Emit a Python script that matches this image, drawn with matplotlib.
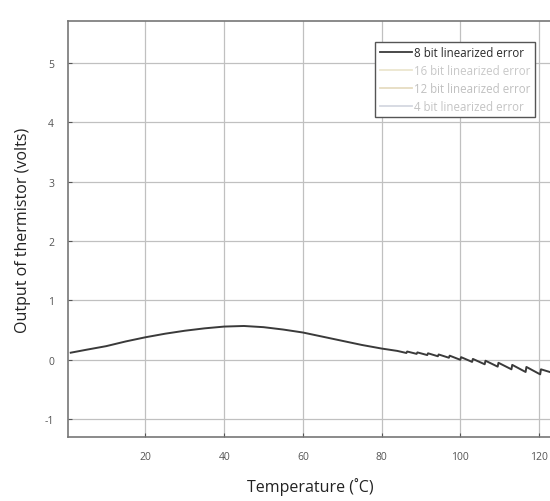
import numpy as np
import matplotlib.pyplot as plt
from matplotlib.lines import Line2D

plt.rcParams['axes.unicode_minus'] = False
plt.rcParams['font.family'] = ['Open Sans', 'DejaVu Sans']

# 8 bit linearized error
temp = [1, 5, 10, 15, 20, 25, 30, 35, 40, 45, 50, 55, 60, 65, 70, 75, 80, 84,
        86.3, 86.5, 88.9, 89.1, 91.6, 91.8, 94.3, 94.5, 97.1, 97.3, 100.0, 100.2,
        103.0, 103.2, 106.2, 106.4, 109.5, 109.7, 113.0, 113.2, 116.6, 116.8,
        120.3, 120.5, 123.5]
err_8bit = [0.12, 0.17, 0.23, 0.31, 0.38, 0.44, 0.49, 0.53, 0.56, 0.57, 0.55, 0.51,
            0.46, 0.39, 0.32, 0.25, 0.19, 0.15,
            0.115, 0.14, 0.10, 0.125, 0.08, 0.11, 0.06, 0.09, 0.035, 0.07, 0.0, 0.045,
            -0.035, 0.015, -0.075, -0.015, -0.115, -0.05, -0.16, -0.085, -0.205, -0.12,
            -0.245, -0.16, -0.22]

labels = ['8 bit linearized error', '16 bit linearized error',
          '12 bit linearized error', '4 bit linearized error']
line_colors = ['#3a3a3a', '#ece6cf', '#e6dcc2', '#d4d8e0']
text_colors = ['#2a2a2a', '#c8c8c8', '#c0c0c0', '#c4c4c4']

fig = plt.figure(figsize=(5.5, 5.02), dpi=100)
ax = fig.add_axes([0.1236, 0.1275, 0.88, 0.829])

ax.plot(temp, err_8bit, color=line_colors[0], lw=1.4)

ax.set_xlim(0.3, 123.3)
ax.set_ylim(-1.3, 5.71)
ax.set_xticks([20, 40, 60, 80, 100, 120])
ax.set_yticks([-1, 0, 1, 2, 3, 4, 5])
ax.grid(True, color='#c0c0c0', lw=0.9)
ax.tick_params(direction='in', length=3, labelsize=7.5, colors='#555555', pad=10)
for s in ax.spines.values():
    s.set_color('#777777')
    s.set_linewidth(1.2)

ax.set_xlabel('Temperature (˚C)', fontsize=11.5, labelpad=11, color='#222222')
ax.set_ylabel('Output of thermistor (volts)', fontsize=11.5, labelpad=10, color='#222222')

handles = [Line2D([], [], color=c, lw=1.3) for c in line_colors]
leg = ax.legend(handles, labels, loc='upper right', bbox_to_anchor=(0.977, 0.964),
                prop={'size': 8.3}, frameon=True, fancybox=False, framealpha=1,
                edgecolor='#555555', handlelength=2.8, handletextpad=0.2,
                labelspacing=0.42, borderpad=0.4)
for t, c in zip(leg.get_texts(), text_colors):
    t.set_color(c)

fig.savefig('out.png', dpi=100)
